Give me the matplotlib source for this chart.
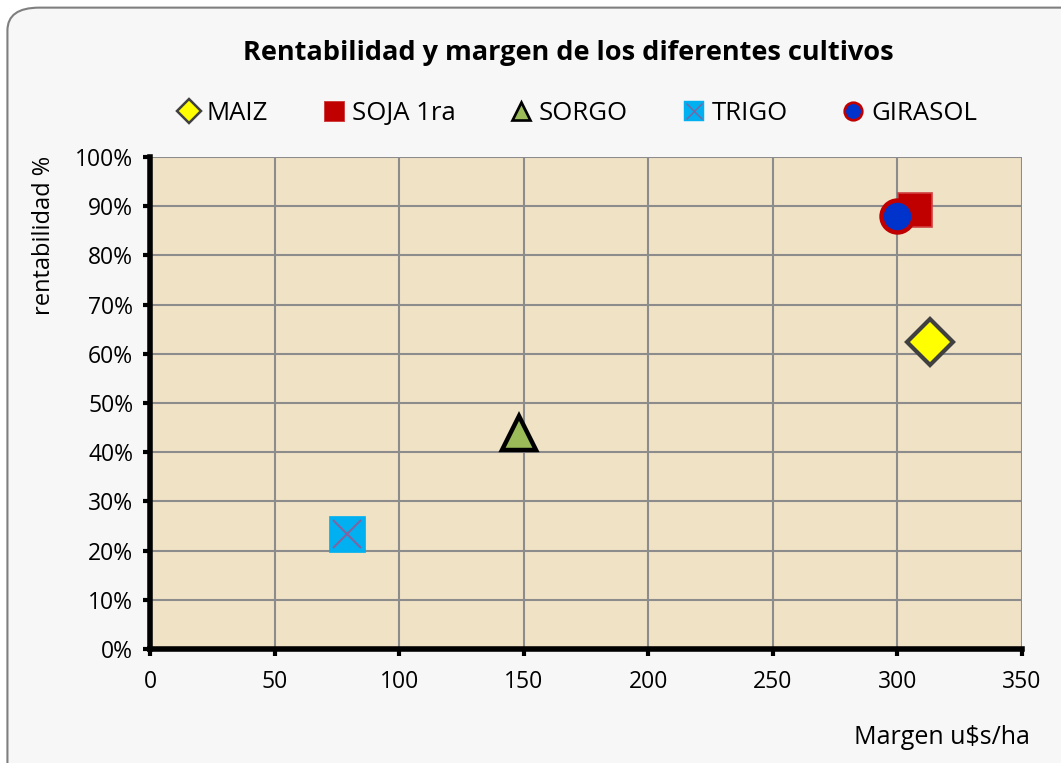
import matplotlib.pyplot as plt
from matplotlib.patches import FancyBboxPatch
from matplotlib.lines import Line2D
from matplotlib.ticker import PercentFormatter

plt.rcParams['font.family'] = ['Open Sans', 'DejaVu Sans']

crops = ["MAIZ", "SOJA 1ra", "SORGO", "TRIGO", "GIRASOL"]
margen = [313, 307, 148, 79, 300]          # u$s/ha
rentab = [0.625, 0.892, 0.44, 0.234, 0.88]  # fraction

x_ticks = [0, 50, 100, 150, 200, 250, 300, 350]
y_ticks = [i / 10 for i in range(11)]

# marker styles per crop
styles = {
    "MAIZ":     dict(marker="D", ms=23, mfc="#FFFF00", mec="#404040", mew=3),
    "SOJA 1ra": dict(marker="s", ms=25, mfc="#C00000", mec="#D04040", mew=1.2),
    "SORGO":    dict(marker="^", ms=24, mfc="#9BBB59", mec="#000000", mew=3.2),
    "TRIGO":    dict(marker="s", ms=26, mfc="#00B0F0", mec="#00B0F0", mew=0.5),
    "GIRASOL":  dict(marker="o", ms=23, mfc="#0033CC", mec="#C00000", mew=3.2),
}

fig = plt.figure(figsize=(10.61, 7.63), dpi=100)
fig.patch.set_facecolor("white")
frame = FancyBboxPatch((0.007, -0.05), 1.05, 1.04, boxstyle="round,pad=0,rounding_size=0.03",
                       transform=fig.transFigure, facecolor="#F7F7F7", edgecolor="#7F7F7F",
                       linewidth=1.5, zorder=-10)
fig.patches.append(frame)

ax = fig.add_axes([0.1414, 0.1494, 0.8218, 0.6448])
ax.set_facecolor("#F0E2C5")

handles = []
for name, xv, yv in zip(crops, margen, rentab):
    st = styles[name]
    ax.plot([xv], [yv], linestyle="none", zorder=5, **st)
    h = Line2D([], [], linestyle="none", marker=st["marker"], ms=st["ms"] * 0.55,
               mfc=st["mfc"], mec=st["mec"], mew=st["mew"] * 0.6)
    if name == "TRIGO":
        ax.plot([xv], [yv], linestyle="none", marker="x", ms=20, mec="#8064A2", mew=1.5, zorder=6)
        hx = Line2D([], [], linestyle="none", marker="x", ms=11, mec="#8064A2", mew=1)
        h = (h, hx)
    handles.append(h)

ax.set_xlim(0, 350)
ax.set_ylim(0, 1)
ax.set_xticks(x_ticks)
ax.set_yticks(y_ticks)
ax.yaxis.set_major_formatter(PercentFormatter(1.0, decimals=0))
ax.grid(True, color="#8C8C8C", linewidth=1.5)
ax.set_axisbelow(True)
for side in ["top", "right"]:
    ax.spines[side].set_visible(False)
for side in ["left", "bottom"]:
    ax.spines[side].set_linewidth(4)
    ax.spines[side].set_color("black")
ax.tick_params(axis="both", direction="out", length=5, width=3, color="black",
               labelsize=16.5, pad=7)
ax.tick_params(axis="x", pad=10)

fig.text(0.536, 0.93, "Rentabilidad y margen de los diferentes cultivos", ha="center",
         va="center", fontsize=19.5, fontweight="bold")
fig.text(0.971, 0.034, "Margen u$s/ha", ha="right", va="center", fontsize=18)
fig.text(0.0415, 0.691, "rentabilidad %", rotation=90, ha="center", va="center", fontsize=17)

fig.legend(handles, crops, loc="center", bbox_to_anchor=(0.543, 0.851), ncol=5,
           frameon=False, fontsize=18.5, handletextpad=0.15, columnspacing=2.0,
           handlelength=1.1)

fig.savefig("out.png", dpi=100)
